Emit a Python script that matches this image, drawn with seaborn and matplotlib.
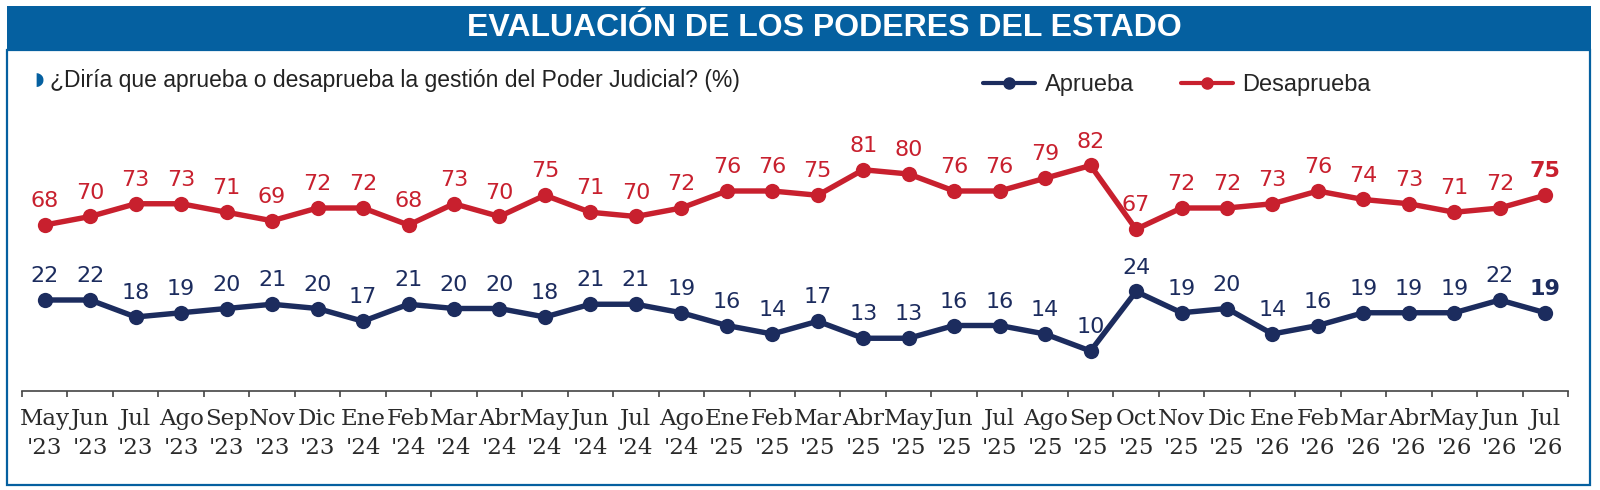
import numpy as np
import pandas as pd
import matplotlib
matplotlib.use("Agg")
import matplotlib.pyplot as plt
from matplotlib.patches import Rectangle
from matplotlib.lines import Line2D
from matplotlib import font_manager
import seaborn as sns

sns.set_theme(style="white")

months = ["May", "Jun", "Jul", "Ago", "Sep", "Nov", "Dic", "Ene", "Feb", "Mar", "Abr", "May",
          "Jun", "Jul", "Ago", "Ene", "Feb", "Mar", "Abr", "May", "Jun", "Jul", "Ago", "Sep",
          "Oct", "Nov", "Dic", "Ene", "Feb", "Mar", "Abr", "May", "Jun", "Jul"]
years = ["'23"] * 7 + ["'24"] * 8 + ["'25"] * 12 + ["'26"] * 7
aprueba = [22, 22, 18, 19, 20, 21, 20, 17, 21, 20, 20, 18, 21, 21, 19, 16, 14, 17, 13, 13,
           16, 16, 14, 10, 24, 19, 20, 14, 16, 19, 19, 19, 22, 19]
desaprueba = [68, 70, 73, 73, 71, 69, 72, 72, 68, 73, 70, 75, 71, 70, 72, 76, 76, 75, 81, 80,
              76, 76, 79, 82, 67, 72, 72, 73, 76, 74, 73, 71, 72, 75]

names = {f.name for f in font_manager.fontManager.ttflist}
cond = "Liberation Sans Narrow" if "Liberation Sans Narrow" in names else "Liberation Sans"
serif = "DejaVu Serif" if "DejaVu Serif" in names else "Liberation Serif"

NAVY = "#1c2c5e"
RED = "#c8202e"
BLUE = "#0560a0"

labels = [f"{m}\n{y}" for m, y in zip(months, years)]
df = pd.DataFrame({"pos": np.arange(len(months)), "Aprueba": aprueba, "Desaprueba": desaprueba})

W, H = 1600, 490
fig = plt.figure(figsize=(16, 4.9), dpi=100)
fig.patch.set_facecolor("white")

# frame and header
fig.patches.append(Rectangle((7 / W, (H - 485) / H), (1590 - 7) / W, (485 - 50) / H,
                             transform=fig.transFigure, facecolor="white", edgecolor=BLUE,
                             lw=1.6, zorder=-10))
fig.patches.append(Rectangle((7 / W, (H - 50) / H), (1591 - 7) / W, (50 - 6) / H,
                             transform=fig.transFigure, facecolor=BLUE, edgecolor="none",
                             zorder=-5))
fig.text(824 / W, (H - 28) / H, "EVALUACIÓN DE LOS PODERES DEL ESTADO", color="white",
         fontsize=23, fontweight="bold", family=cond, ha="center", va="center")

# subtitle
fig.text(34 / W, (H - 80) / H, "◗", color=BLUE, fontsize=13, ha="left", va="center",
         family="DejaVu Sans")
fig.text(50 / W, (H - 80) / H, "¿Diría que aprueba o desaprueba la gestión del Poder Judicial? (%)",
         color="#222222", fontsize=16.5, family=cond, ha="left", va="center")

bottom = (H - 391) / H
top = (H - 130) / H
ax = fig.add_axes([22 / W, bottom, (1568 - 22) / W, top - bottom])
ax2 = ax.twinx()

scale = 4.25
ax.set_ylim(22 - 91 / scale, 22 + 170 / scale)
ax2.set_ylim(68 - 166 / scale, 68 + 95 / scale)

sns.lineplot(data=df, x="pos", y="Aprueba", ax=ax, color=NAVY, lw=3.9, marker="o",
             markersize=11, markeredgewidth=0, zorder=3)
sns.lineplot(data=df, x="pos", y="Desaprueba", ax=ax2, color=RED, lw=3.9, marker="o",
             markersize=11, markeredgewidth=0, zorder=3)

n = len(months)
for i, (a, d) in enumerate(zip(aprueba, desaprueba)):
    w = "bold" if i == n - 1 else "normal"
    ax.annotate(str(a), (i, a), xytext=(0, 10), textcoords="offset points", ha="center",
                va="bottom", color=NAVY, fontsize=16, fontweight=w, family="DejaVu Sans")
    ax2.annotate(str(d), (i, d), xytext=(0, 10), textcoords="offset points", ha="center",
                 va="bottom", color=RED, fontsize=16, fontweight=w, family="DejaVu Sans")

ax.set_xlim(-0.5, n - 0.5)
ax.set_xticks(np.arange(n))
ax.set_xticklabels(labels, family=serif, fontsize=16.5, color="#2a2a2a", linespacing=1.45)
ax.set_xticks(np.arange(-0.5, n, 1), minor=True)
ax.tick_params(axis="x", which="major", length=0, pad=12)
ax.tick_params(axis="x", which="minor", length=4.5, width=1.2, color="#444444", direction="out",
               bottom=True)
ax.set_xlabel("")
ax.set_ylabel("")
ax2.set_ylabel("")
ax.set_yticks([])
ax2.set_yticks([])
for a_ in (ax, ax2):
    a_.set_facecolor("none")
    for s in ("top", "left", "right"):
        a_.spines[s].set_visible(False)
ax2.spines["bottom"].set_visible(False)
ax.spines["bottom"].set_color("#444444")
ax.spines["bottom"].set_linewidth(1.2)

handles = [Line2D([], [], color=NAVY, lw=3, marker="o", markersize=8),
           Line2D([], [], color=RED, lw=3, marker="o", markersize=8)]
fig.legend(handles, ["Aprueba", "Desaprueba"], loc="center left",
           bbox_to_anchor=(962 / W, (H - 85) / H), ncol=2, frameon=False,
           prop={"family": cond, "size": 17}, handlelength=2.2, handletextpad=0.4,
           columnspacing=2.0)

fig.savefig("out.png", dpi=100, facecolor="white")
